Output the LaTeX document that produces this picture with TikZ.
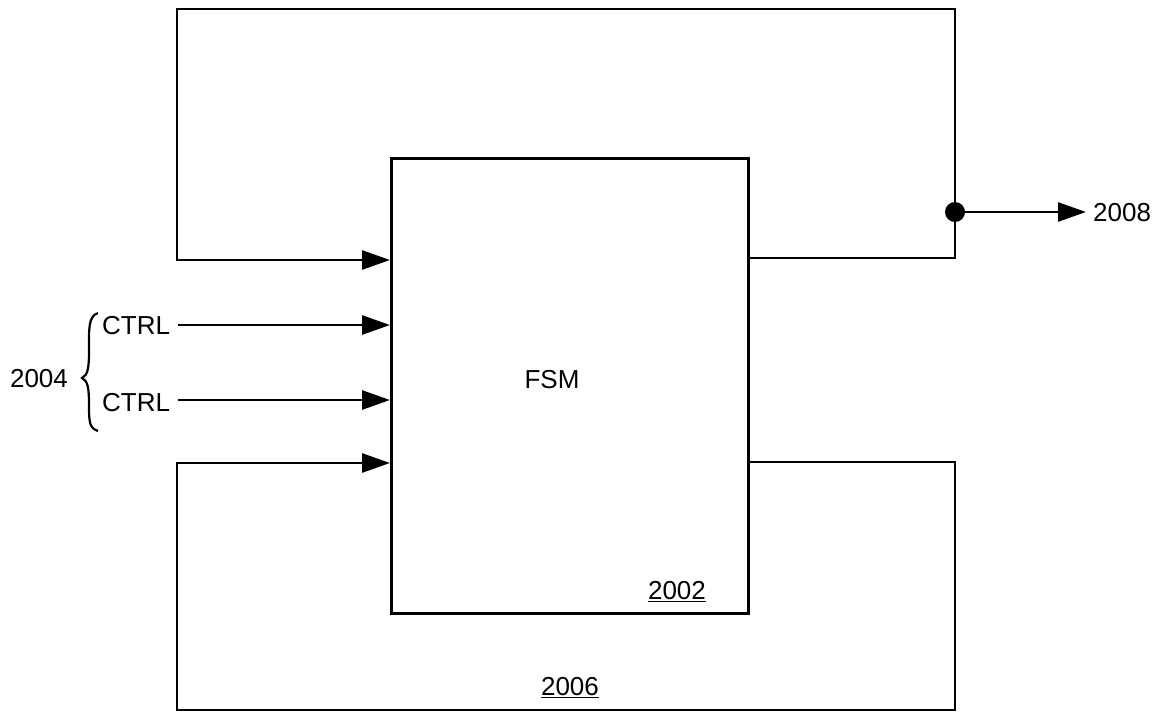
\documentclass[tikz,border=0pt]{standalone}
\usepackage{fontspec}
\setmainfont{Liberation Sans}
\usetikzlibrary{arrows.meta,decorations.pathreplacing}
\begin{document}
\begin{tikzpicture}[x=1pt,y=-1pt,
  wire/.style={line width=2.8pt},
  arr/.style={wire,-{Triangle[length=28pt,width=19pt]}},
  lbl/.style={font=\fontsize{26}{30}\selectfont,inner sep=0pt},
  ulbl/.style={lbl,text depth=0pt}]
\useasboundingbox (0,0) rectangle (1163,713);
% FSM box
\node[draw,line width=2.8pt,minimum width=357pt,minimum height=455pt,anchor=north west,inner sep=0pt] (fsm) at (390,157) {};
\node[lbl] (fsmt) at (552,380) {FSM};
\node[lbl] (n2002) at (677,592) {\underline{2002}};
% coordinates
\coordinate (outT) at (747,258);
\coordinate (outB) at (747,462);
\coordinate (inT) at (390,260);
\coordinate (inB) at (390,463);
\coordinate (in1) at (390,325);
\coordinate (in2) at (390,400);
\coordinate (dot) at (955,212);
% top loop
\draw[wire] (outT) -| (955,9) -| (177,260) -- (250,260);
\draw[arr] (250,260) -- (inT);
\fill (dot) circle (10pt);
\coordinate (o2008) at (1086,212);
\draw[arr] (dot) -- (o2008);
\node[lbl,anchor=west] (n2008) at (1093,213) {2008};
% bottom loop
\draw[wire] (outB) -| (955,710) -| (177,463) -- (250,463);
\draw[arr] (250,463) -- (inB);
\node[lbl] (n2006) at (570,688) {\underline{2006}};
% control inputs
\node[lbl,anchor=west] (c1) at (102,326) {CTRL};
\node[lbl,anchor=west] (c2) at (102,403) {CTRL};
\draw[arr] (178,325) -- (in1);
\draw[arr] (178,400) -- (in2);
% brace
\draw[line width=2.2pt] (98,313) .. controls (88,316) and (89,330) .. (89,350)
  .. controls (89,368) and (88,375) .. (82,378)
  .. controls (88,381) and (89,388) .. (89,406)
  .. controls (89,424) and (90,428) .. (98,431);
\node[lbl] (n2004) at (39,379) {2004};
\end{tikzpicture}
\end{document}
